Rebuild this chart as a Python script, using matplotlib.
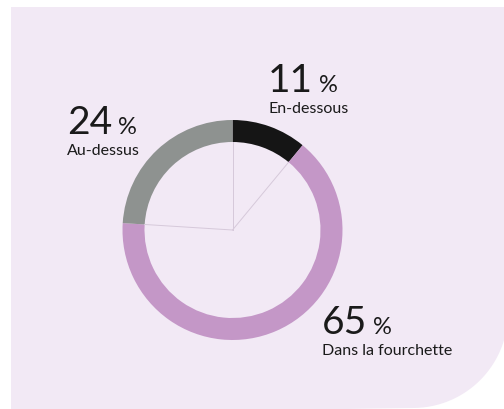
import matplotlib.pyplot as plt
import numpy as np
from matplotlib.path import Path
from matplotlib.patches import PathPatch

# Share of values vs. the target range
labels = ["En-dessous", "Dans la fourchette", "Au-dessus"]
values = [11, 65, 24]
colors = ["#151515", "#c497c7", "#8e9290"]

W, H = 504, 409
fig = plt.figure(figsize=(W / 100, H / 100), dpi=100)
ax = fig.add_axes([0, 0, 1, 1])
ax.set_xlim(0, W)
ax.set_ylim(0, H)
ax.set_aspect("equal")
ax.axis("off")

# lavender panel, square corners except a big rounded one bottom right
bg = "#f2e9f5"
r = 95
cx, cy = 413, H - 313
verts = [(11, H - 7), (520, H - 7), (520, cy)]
for t in np.linspace(0, -np.pi / 2, 30):
    verts.append((cx + r * np.cos(t), cy + r * np.sin(t)))
verts += [(11, -5), (11, H - 7)]
ax.add_patch(PathPatch(Path(verts), facecolor=bg, edgecolor="none", zorder=0))

# donut
center = (232.5, H - 230)
R_out, width = 110, 22
ax.pie(values, colors=colors, startangle=90, counterclock=False,
       radius=R_out, center=center,
       wedgeprops=dict(width=width, edgecolor="none", linewidth=0))
ax.set_xlim(0, W)
ax.set_ylim(0, H)

# faint spokes from the centre to the segment boundaries
bounds = np.cumsum([0] + values[:-1]) / sum(values)
for b in bounds:
    a = np.pi / 2 - 2 * np.pi * b
    ax.plot([center[0], center[0] + (R_out - width) * np.cos(a)],
            [center[1], center[1] + (R_out - width) * np.sin(a)],
            color="#d6c9da", lw=0.7, zorder=1)

font = "Lato"
# label positions in pixels (left x, baseline y)
pos = [(268, 92), (322, 334), (67, 134)]
for (x, y), v, lab in zip(pos, values, labels):
    t = ax.text(x, H - y, str(v), fontsize=28, family=font,
                color="#1a1a1a", ha="left", va="baseline")
    fig.canvas.draw()
    bb = t.get_window_extent()
    ax.text(bb.x1 + 6, H - y, "%", fontsize=17, family=font,
            color="#1a1a1a", ha="left", va="baseline")
    ax.text(x, H - y - 21, lab, fontsize=11.5, family=font, color="#1a1a1a",
            ha="left", va="baseline")

fig.savefig("out.png", dpi=100, facecolor="white")
